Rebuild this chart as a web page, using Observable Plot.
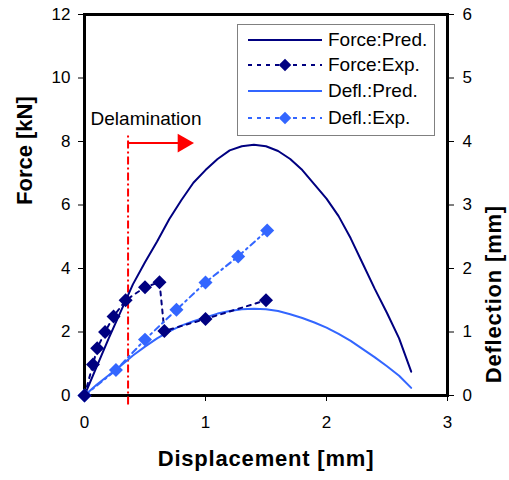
<!DOCTYPE html>
<html>
<head>
<meta charset="utf-8">
<script src="https://cdn.jsdelivr.net/npm/d3@7"></script>
<script src="https://cdn.jsdelivr.net/npm/@observablehq/plot@0.6"></script>
<style>
  html, body { margin: 0; padding: 0; background: #fff; }
  #wrap { position: relative; width: 509px; height: 480px; font-family: "Liberation Sans", Arial, sans-serif; }
  #legend { position: absolute; left: 237px; top: 24px; width: 196px; height: 110px; border: 1px solid #808080; background: #fff; }
  #legend .row { position: absolute; left: 0; height: 26px; width: 196px; }
  #legend svg { position: absolute; left: 8px; top: 0; }
  #legend span { position: absolute; left: 90px; top: 1px; font-size: 19px; line-height: 24px; color: #000; }
</style>
</head>
<body>
<div id="wrap"></div>
<script>
// ---- data ----
const dispPred  = [0, 0.1, 0.2, 0.3, 0.4, 0.5, 0.6, 0.7, 0.8, 0.9, 1.0, 1.1, 1.2, 1.3, 1.4, 1.5, 1.6, 1.7, 1.8, 1.9, 2.0, 2.1, 2.2, 2.3, 2.4, 2.5, 2.6, 2.7];
const forcePred = [0, 0.9, 1.8, 2.65, 3.5, 4.2, 4.85, 5.55, 6.15, 6.7, 7.1, 7.45, 7.72, 7.85, 7.9, 7.85, 7.7, 7.45, 7.1, 6.65, 6.2, 5.65, 4.95, 4.15, 3.35, 2.6, 1.8, 0.75];
const deflPred  = [0, 0.17, 0.32, 0.47, 0.63, 0.77, 0.9, 1.01, 1.1, 1.17, 1.23, 1.29, 1.33, 1.36, 1.365, 1.36, 1.33, 1.28, 1.22, 1.15, 1.07, 0.97, 0.86, 0.73, 0.6, 0.46, 0.31, 0.12];

const dispForceExp = [0, 0.07, 0.105, 0.17, 0.24, 0.34, 0.5, 0.62, 0.66, 1.0, 1.5];
const forceExp     = [0, 0.98, 1.49, 2.0, 2.49, 3.0, 3.41, 3.57, 2.03, 2.41, 3.0];
const dispDeflExp  = [0, 0.26, 0.5, 0.76, 1.0, 1.27, 1.51];
const deflExp      = [0, 0.4, 0.88, 1.35, 1.78, 2.19, 2.6];

const xTicks = [0, 1, 2, 3];
const forceTicks = [0, 2, 4, 6, 8, 10, 12];
const deflTicks = [0, 1, 2, 3, 4, 5, 6];

const seriesNames = ["Force:Pred.", "Force:Exp.", "Defl.:Pred.", "Defl.:Exp."];
const dark = "#000080", light = "#3366FF";

const delamX = 0.36;          // displacement of delamination (mm)
const delamLineY = [-0.3, 8.25];
const delamArrow = {x1: 0.36, x2: 0.86, y: 7.95};
const delamLabel = {text: "Delamination", x: 0.05, y: 8.72};

// ratio: right axis (mm) mapped onto left axis (kN)
const k = 2;

const predF = dispPred.map((x, i) => ({x, y: forcePred[i]}));
const predD = dispPred.map((x, i) => ({x, y: deflPred[i] * k}));
const expF  = dispForceExp.map((x, i) => ({x, y: forceExp[i]}));
const expD  = dispDeflExp.map((x, i) => ({x, y: deflExp[i] * k}));

const font = "Liberation Sans, Arial, sans-serif";

const chart = Plot.plot({
  width: 509,
  height: 480,
  marginLeft: 84,
  marginRight: 62,
  marginTop: 14,
  marginBottom: 85,
  style: {fontFamily: font, fontSize: "17px", color: "#000", background: "#fff", overflow: "visible"},
  x: {domain: [0, 3]},
  y: {domain: [0, 12]},
  marks: [
    Plot.axisY({anchor: "left", ticks: forceTicks, tickFormat: d => String(d), tickSize: 6, tickPadding: 8, label: null, fontSize: 17}),
    Plot.axisY({anchor: "right", ticks: deflTicks.map(d => d * k), tickFormat: d => String(d / k), tickSize: 6, tickPadding: 9, label: null, fontSize: 17}),
    Plot.axisX({ticks: xTicks, tickFormat: d => String(d), tickSize: 6, tickPadding: 14, label: null, fontSize: 17}),
    Plot.frame({stroke: "#000", strokeWidth: 3}),
    // delamination annotation
    Plot.ruleX([delamX], {y1: delamLineY[0], y2: delamLineY[1], stroke: "#FF0000", strokeWidth: 2, strokeDasharray: "8,3,2,3"}),
    Plot.link([delamArrow], {x1: "x1", x2: d => d.x2 - 0.08, y1: "y", y2: "y", stroke: "#FF0000", strokeWidth: 2}),
    Plot.dot([delamArrow], {x: d => d.x2 - 0.045, y: "y", symbol: "triangle", r: 7, rotate: 90, fill: "#FF0000", stroke: "none"}),
    Plot.text([delamLabel], {x: "x", y: "y", text: "text", textAnchor: "start", fontSize: 19, fill: "#000"}),
    // predictions
    Plot.line(predF, {x: "x", y: "y", stroke: dark, strokeWidth: 2}),
    Plot.line(predD, {x: "x", y: "y", stroke: light, strokeWidth: 2}),
    // experiments
    Plot.line(expF, {x: "x", y: "y", stroke: dark, strokeWidth: 2, strokeDasharray: "4,5"}),
    Plot.line(expD, {x: "x", y: "y", stroke: light, strokeWidth: 2, strokeDasharray: "6,4,2,4"}),
    Plot.dot(expD, {x: "x", y: "y", symbol: "diamond2", r: 6.3, fill: light, stroke: "none"}),
    Plot.dot(expF, {x: "x", y: "y", symbol: "diamond2", r: 6.3, fill: dark, stroke: "none"}),
    // axis titles
    Plot.text(["Force [kN]"], {frameAnchor: "left", dx: -60, rotate: -90, fontSize: 22, fontWeight: "bold", fill: "#000"}),
    Plot.text(["Deflection [mm]"], {frameAnchor: "right", dx: 46, rotate: -90, fontSize: 22, fontWeight: "bold", fill: "#000"}),
    Plot.text(["Displacement [mm]"], {frameAnchor: "bottom", dy: 70, fontSize: 22, fontWeight: "bold", fill: "#000"})
  ]
});

const wrap = document.getElementById("wrap");
wrap.appendChild(chart);
d3.select(chart).selectAll("text").style("letter-spacing", function() {
  const t = this.textContent;
  return (t === "Displacement [mm]" || t === "Deflection [mm]") ? "0.8px" : null;
});

// legend overlay
const legendStyles = [
  {stroke: dark, dash: null, marker: false},
  {stroke: dark, dash: "4,5", marker: true},
  {stroke: light, dash: null, marker: false},
  {stroke: light, dash: "4,5", marker: true}
];
const rowTops = [2, 27, 53, 80];
const leg = d3.select(wrap).append("div").attr("id", "legend");
seriesNames.forEach((name, i) => {
  const s = legendStyles[i];
  const row = leg.append("div").attr("class", "row").style("top", rowTops[i] + "px");
  const svg = row.append("svg").attr("width", 80).attr("height", 26);
  svg.append("line").attr("x1", 2).attr("x2", 76).attr("y1", 13).attr("y2", 13)
    .attr("stroke", s.stroke).attr("stroke-width", 2).attr("stroke-dasharray", s.dash);
  if (s.marker) {
    svg.append("path").attr("d", d3.symbol(d3.symbolDiamond2, 100)()).attr("transform", "translate(39,13)").attr("fill", s.stroke);
  }
  row.append("span").text(name);
});
</script>
</body>
</html>
